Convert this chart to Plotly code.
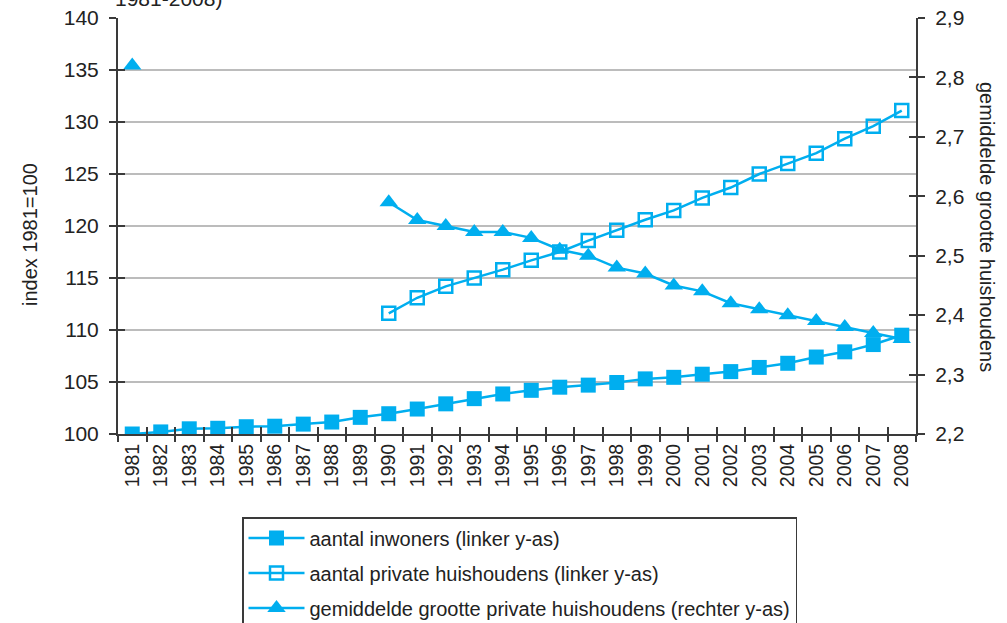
import plotly.graph_objects as go

years = list(range(1981, 2009))
year_labels = [str(y) for y in years]

inwoners = [100.0, 100.2, 100.5, 100.55, 100.7, 100.75, 100.95, 101.15, 101.6, 101.95,
            102.4, 102.9, 103.4, 103.85, 104.2, 104.5, 104.7, 104.95, 105.3, 105.45,
            105.75, 106.0, 106.4, 106.8, 107.4, 107.9, 108.6, 109.5]

huishoudens = [None] * 9 + [111.6, 113.1, 114.2, 115.0, 115.8, 116.7, 117.5, 118.6, 119.6,
                            120.6, 121.5, 122.7, 123.7, 125.0, 126.0, 127.0, 128.4, 129.6, 131.1]

grootte = [2.82] + [None] * 8 + [2.59, 2.56, 2.55, 2.54, 2.54, 2.53, 2.51, 2.50, 2.48,
                                 2.47, 2.45, 2.44, 2.42, 2.41, 2.40, 2.39, 2.38, 2.37, 2.36]

names = ["aantal inwoners (linker y-as)",
         "aantal private huishoudens (linker y-as)",
         "gemiddelde grootte private huishoudens (rechter y-as)"]

left_ticks = [100, 105, 110, 115, 120, 125, 130, 135, 140]
right_ticks = [2.2, 2.3, 2.4, 2.5, 2.6, 2.7, 2.8, 2.9]
left_title = "index 1981=100"
right_title = "gemiddelde grootte huishoudens"
top_text = "1981-2008)"

BLUE = "#00AEEF"
AX = "#3a3a3a"
GRID = "#bcbcbc"
FONT = "Liberation Sans, Arial, sans-serif"

boundaries = [y - 0.5 for y in years] + [years[-1] + 0.5]

fig = go.Figure()
fig.add_trace(go.Scatter(x=years, y=inwoners, name=names[0], mode="lines+markers",
                         line=dict(color=BLUE, width=2.5),
                         marker=dict(symbol="square", size=15, color=BLUE),
                         legendgroup="a"))
fig.add_trace(go.Scatter(x=years, y=huishoudens, name=names[1], mode="lines+markers",
                         line=dict(color=BLUE, width=2.5),
                         marker=dict(symbol="square-open", size=13, color=BLUE,
                                     line=dict(width=2.5, color=BLUE)),
                         legendgroup="b"))
fig.add_trace(go.Scatter(x=years, y=grootte, name=names[2], mode="lines+markers",
                         yaxis="y2", connectgaps=False,
                         line=dict(color=BLUE, width=2.5),
                         marker=dict(symbol="triangle-up", size=16, color=BLUE),
                         legendgroup="c"))
# helper (invisible) traces to make overlay tick axes render
for xa, ya in [("x2", "y"), ("x3", "y"), ("x", "y3"), ("x", "y4")]:
    fig.add_trace(go.Scatter(x=[years[0]], y=[None], xaxis=xa, yaxis=ya, mode="markers",
                             showlegend=False, hoverinfo="skip",
                             marker=dict(opacity=0)))

xr = [years[0] - 0.5, years[-1] + 0.5]
fig.update_layout(
    width=1007, height=623,
    margin=dict(l=118, r=91, t=18, b=189, autoexpand=False),
    paper_bgcolor="white", plot_bgcolor="white",
    font=dict(family=FONT, size=20, color="#222"),
    separators=", ",
    showlegend=True,
    legend=dict(x=(242 - 118) / 798, y=(434 - 517) / 416, xanchor="left", yanchor="top",
                bordercolor=AX, borderwidth=1.5, bgcolor="white",
                font=dict(family=FONT, size=20, color="#222"),
                tracegroupgap=6, traceorder="grouped", itemwidth=56),
    xaxis=dict(range=xr, tickmode="array", tickvals=years, ticktext=year_labels,
               tickangle=-90, ticks="", showgrid=False, zeroline=False, automargin=False,
               showline=True, linecolor=AX, linewidth=2, tickfont=dict(size=19.5)),
    xaxis2=dict(range=xr, overlaying="x", anchor="y", side="bottom", tickmode="array",
                tickvals=boundaries, ticks="outside", ticklen=7, tickwidth=1.5, tickcolor=AX,
                showticklabels=False, showgrid=False, zeroline=False, showline=False,
                automargin=False),
    xaxis3=dict(range=xr, overlaying="x", anchor="y", side="bottom", tickmode="array",
                tickvals=boundaries, ticks="inside", ticklen=7, tickwidth=1.5, tickcolor=AX,
                showticklabels=False, showgrid=False, zeroline=False, showline=False,
                automargin=False),
    yaxis=dict(range=[100, 140], tickmode="array", tickvals=left_ticks,
               ticks="outside", ticklen=7, tickwidth=1.5, tickcolor=AX,
               showgrid=True, gridcolor=GRID, gridwidth=1.5, zeroline=False,
               showline=True, linecolor=AX, linewidth=2, ticklabelstandoff=6,
               tickfont=dict(size=21), automargin=False),
    yaxis3=dict(range=[100, 140], overlaying="y", side="left", anchor="x", tickmode="array",
                tickvals=left_ticks, ticks="inside", ticklen=7, tickwidth=1.5, tickcolor=AX,
                showticklabels=False, showgrid=False, zeroline=False, showline=False,
                automargin=False),
    yaxis2=dict(range=[2.2, 2.9], overlaying="y", side="right", anchor="x", tickmode="array",
                tickvals=right_ticks, tickformat=".1f",
                ticks="outside", ticklen=7, tickwidth=1.5, tickcolor=AX,
                showgrid=False, zeroline=False, showline=True, linecolor=AX, linewidth=2,
                ticklabelstandoff=6, tickfont=dict(size=21), automargin=False),
    yaxis4=dict(range=[2.2, 2.9], overlaying="y", side="right", anchor="x", tickmode="array",
                tickvals=right_ticks, ticks="inside", ticklen=7, tickwidth=1.5, tickcolor=AX,
                showticklabels=False, showgrid=False, zeroline=False, showline=False,
                automargin=False),
    annotations=[
        dict(text=left_title, xref="paper", yref="paper", x=(30 - 118) / 798, y=(434 - 235) / 416,
             textangle=-90, showarrow=False, font=dict(size=20), xanchor="center", yanchor="middle"),
        dict(text=right_title, xref="paper", yref="paper", x=(987 - 118) / 798, y=(434 - 227) / 416,
             textangle=90, showarrow=False, font=dict(size=20), xanchor="center", yanchor="middle"),
        dict(text=top_text, xref="paper", yref="paper", x=(113 - 118) / 798, y=(434 - 12) / 416,
             showarrow=False, font=dict(size=21), xanchor="left", yanchor="bottom"),
    ],
)

fig.write_html("out.html", config={"displayModeBar": False},
               post_script="document.body.style.margin='0px';document.body.style.overflow='hidden';")
